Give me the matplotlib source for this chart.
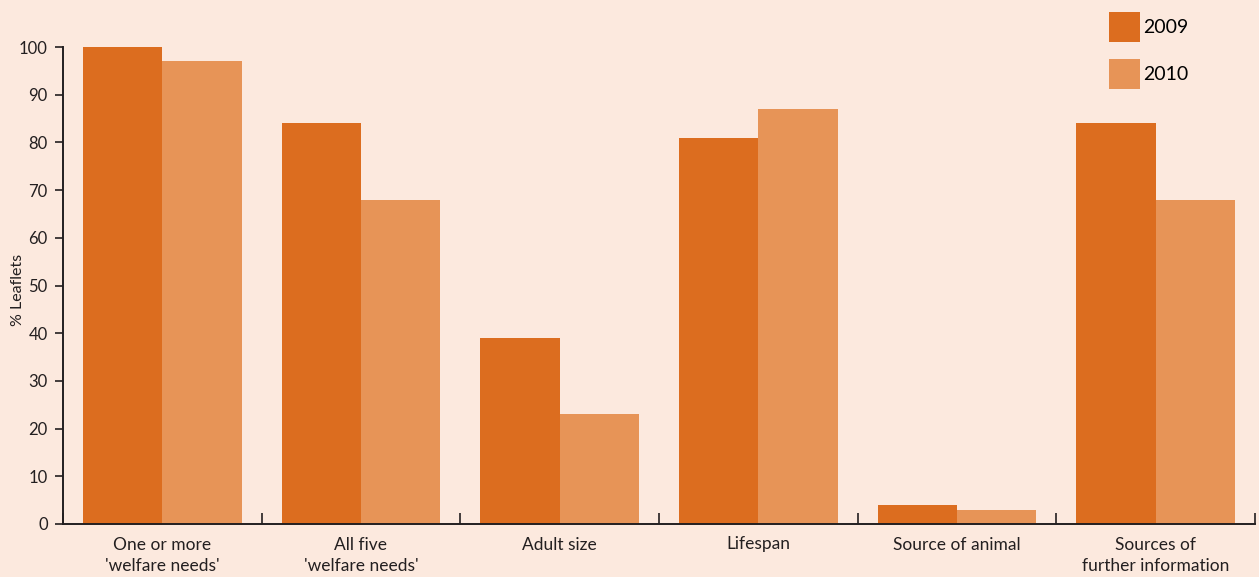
import numpy as np
import matplotlib
matplotlib.use("Agg")
import matplotlib.pyplot as plt
from matplotlib.patches import Patch

categories = ["One or more\n'welfare needs'", "All five\n'welfare needs'", "Adult size",
              "Lifespan", "Source of animal", "Sources of\nfurther information"]
values_2009 = [100, 84, 39, 81, 4, 84]
values_2010 = [97, 68, 23, 87, 3, 68]
years = ["2009", "2010"]
yticks = [0, 10, 20, 30, 40, 50, 60, 70, 80, 90, 100]

bg = "#FCE9DE"
c2009 = "#DC6D1F"
c2010 = "#E79457"
ink = "#231F20"

plt.rcParams['font.family'] = ['Lato', 'DejaVu Sans']

fig = plt.figure(figsize=(12.59, 5.77), dpi=100, facecolor=bg)
ax = fig.add_axes([63 / 1259, 53 / 577, (1255 - 63) / 1259, (524 - 47) / 577])
ax.set_facecolor(bg)

x = np.arange(len(categories)) + 0.5
w = 0.4
ax.bar(x - w / 2, values_2009, w, color=c2009, label=years[0])
ax.bar(x + w / 2, values_2010, w, color=c2010, label=years[1])

ax.set_xlim(0, len(categories))
ax.set_ylim(0, 100)
ax.set_yticks(yticks)
ax.tick_params(axis='y', direction='out', length=6, width=1.2, colors=ink,
               labelsize=12, pad=5)

# category labels centred, boundary ticks pointing up
ax.set_xticks(np.arange(len(categories) + 1))
ax.set_xticklabels([])
ax.tick_params(axis='x', which='major', direction='in', length=8, width=1.2, colors=ink)
ax.set_xticks(x, minor=True)
ax.set_xticklabels(categories, minor=True, fontsize=12.5, color=ink, linespacing=1.45)
ax.tick_params(axis='x', which='minor', length=0, pad=9)

for s in ['top', 'right']:
    ax.spines[s].set_visible(False)
for s in ['left', 'bottom']:
    ax.spines[s].set_color(ink)
    ax.spines[s].set_linewidth(1.4)

ax.set_ylabel("% Leaflets", fontsize=11.5, color=ink)
ax.yaxis.set_label_coords(-0.032, 0.49)

handles = [Patch(facecolor=c2009, edgecolor='none'), Patch(facecolor=c2010, edgecolor='none')]
fig.legend(handles, years, loc='upper left', bbox_to_anchor=(1109 / 1259, 1 - 12 / 577),
           frameon=False, fontsize=14, handlelength=1.6, handleheight=2.0,
           handletextpad=0.15, labelspacing=0.85, borderpad=0, borderaxespad=0)

fig.savefig("out.png", dpi=100, facecolor=bg)
